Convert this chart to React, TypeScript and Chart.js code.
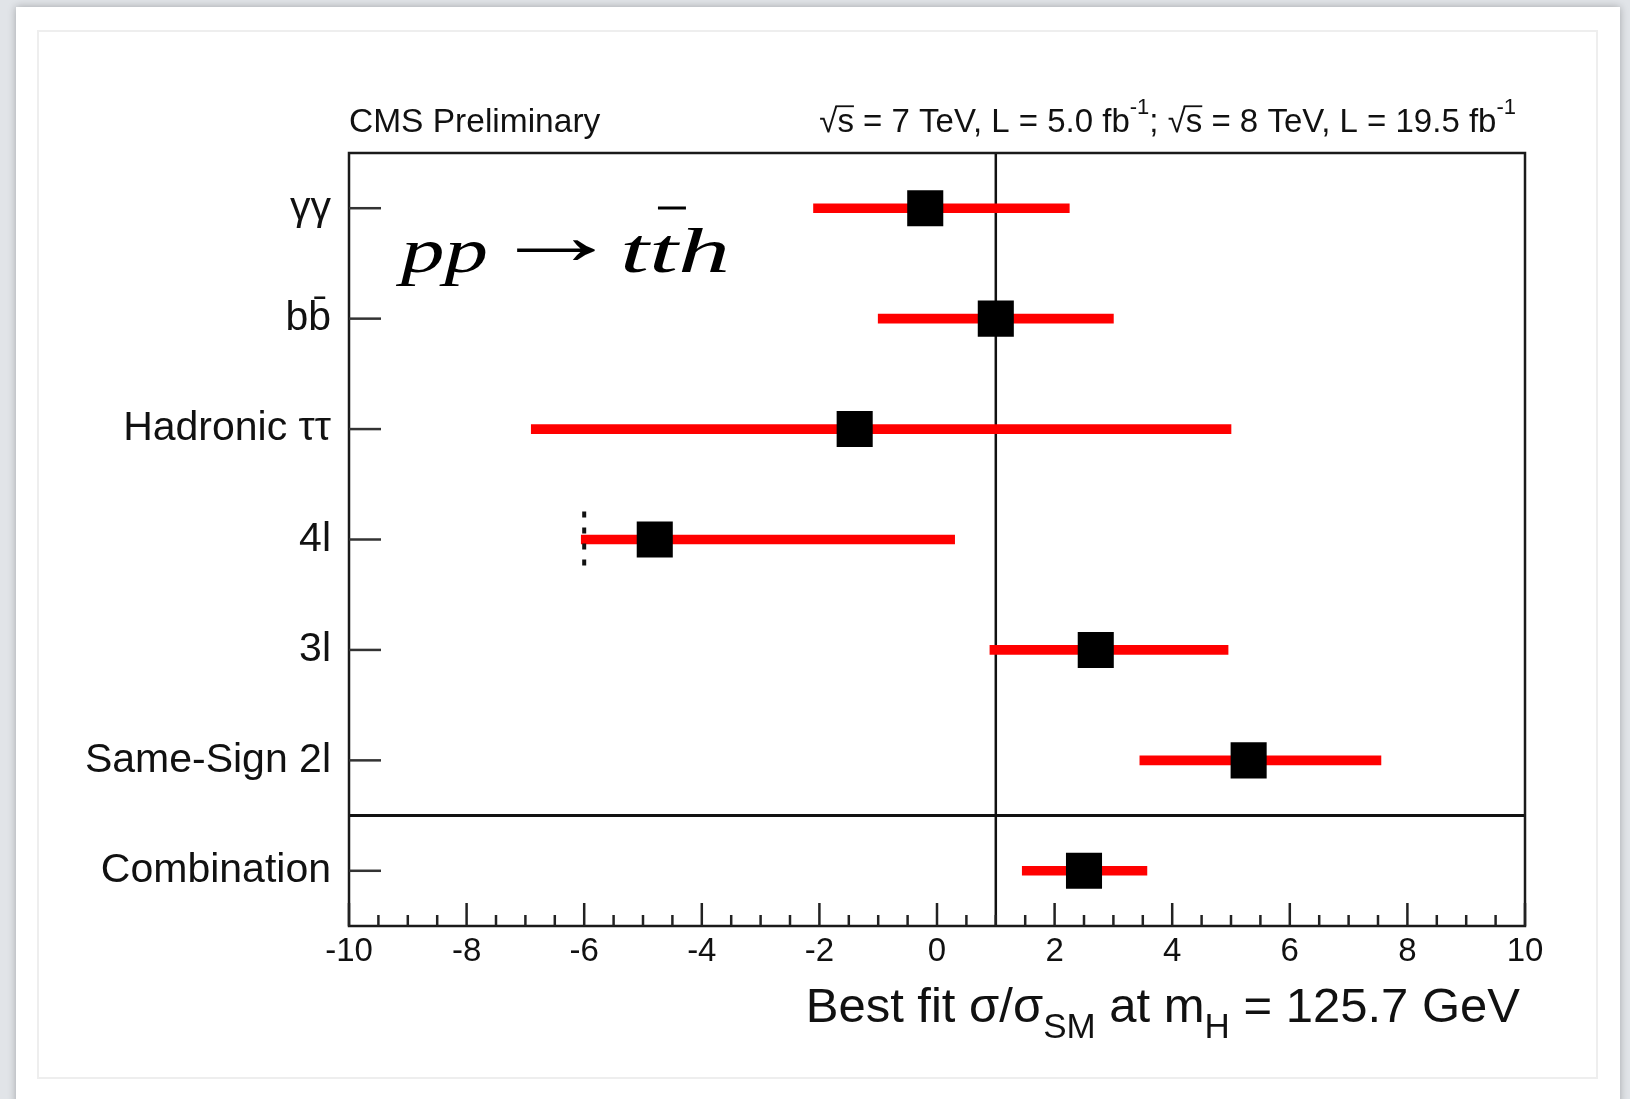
import React, { useEffect, useRef } from "react";
import { Chart, registerables } from "chart.js";

Chart.register(...registerables);

// ---------- data ----------
const categories = ["γγ", "bb\u0304", "Hadronic ττ", "4l", "3l", "Same-Sign 2l", "Combination"];
const bestFit = [-0.2, 1.0, -1.4, -4.8, 2.7, 5.3, 2.5];
const errLow = [-2.1, -1.0, -6.9, -6.05, 0.9, 3.45, 1.45];
const errHigh = [2.25, 3.0, 5.0, 0.3, 4.95, 7.55, 3.57];
const xMin = -10;
const xMax = 10;
const xMajorStep = 2;
const xMinorStep = 0.5;
const smValue = 1;
const separatorBetween = ["Same-Sign 2l", "Combination"];
const limitCategory = "4l";
const limitValue = -6;
const headerLeft = "CMS Preliminary";
const processLabel = { initial: "pp", arrow: "\u2192", final: "tth" };

const SANS = "'Liberation Sans', Arial, Helvetica, sans-serif";
const SERIF = "'Liberation Serif', 'DejaVu Serif', serif";
const INK = "#111111";

type Part = { t: string; size: number; dy: number; over?: boolean };

function drawParts(ctx: CanvasRenderingContext2D, parts: Part[], xRight: number, baseline: number) {
  let total = 0;
  const widths: number[] = [];
  for (const p of parts) {
    ctx.font = `${p.size}px ${SANS}`;
    const w = ctx.measureText(p.t).width;
    widths.push(w);
    total += w;
  }
  let x = xRight - total;
  ctx.textAlign = "left";
  ctx.textBaseline = "alphabetic";
  parts.forEach((p, i) => {
    ctx.font = `${p.size}px ${SANS}`;
    ctx.fillText(p.t, x, baseline + p.dy);
    if (p.over) {
      ctx.beginPath();
      ctx.lineWidth = 1.8;
      const yTop = baseline + p.dy - p.size * 0.78;
      ctx.moveTo(x - 2, yTop);
      ctx.lineTo(x + widths[i], yTop);
      ctx.stroke();
    }
    x += widths[i];
  });
}

const decor = {
  id: "decor",
  beforeDraw(chart: any) {
    const ctx: CanvasRenderingContext2D = chart.ctx;
    const W = chart.width;
    const H = chart.height;
    ctx.save();
    ctx.fillStyle = "#e1e4e8";
    ctx.fillRect(0, 0, W, H);
    ctx.shadowColor = "rgba(0,0,0,0.28)";
    ctx.shadowBlur = 8;
    ctx.fillStyle = "#ffffff";
    ctx.fillRect(16, 7, 1604, H + 20);
    ctx.shadowColor = "transparent";
    ctx.shadowBlur = 0;
    ctx.strokeStyle = "#eeeeee";
    ctx.lineWidth = 2;
    ctx.strokeRect(38, 31, 1559, 1047);
    ctx.restore();
  },
  beforeDatasetsDraw(chart: any) {
    const ctx: CanvasRenderingContext2D = chart.ctx;
    const { left, right, top, bottom } = chart.chartArea;
    const xs = chart.scales.x;
    const ys = chart.scales.y;
    ctx.save();
    ctx.strokeStyle = "#111";
    ctx.lineWidth = 2.5;
    const xsm = xs.getPixelForValue(smValue);
    ctx.beginPath();
    ctx.moveTo(xsm, top);
    ctx.lineTo(xsm, bottom);
    ctx.stroke();
    const ia = categories.indexOf(separatorBetween[0]);
    const ib = categories.indexOf(separatorBetween[1]);
    const ysep = (ys.getPixelForValue(ia) + ys.getPixelForValue(ib)) / 2;
    ctx.lineWidth = 3;
    ctx.beginPath();
    ctx.moveTo(left, ysep);
    ctx.lineTo(right, ysep);
    ctx.stroke();
    ctx.restore();
  },
  afterDatasetsDraw(chart: any) {
    const ctx: CanvasRenderingContext2D = chart.ctx;
    const { left, right, top, bottom } = chart.chartArea;
    const xs = chart.scales.x;
    const ys = chart.scales.y;
    ctx.save();
    // frame
    ctx.strokeStyle = "#1a1a1a";
    ctx.lineWidth = 2.5;
    ctx.strokeRect(left, top, right - left, bottom - top);
    // y ticks (inward)
    ctx.strokeStyle = "#333";
    ctx.lineWidth = 2.5;
    categories.forEach((_, i) => {
      const y = ys.getPixelForValue(i);
      ctx.beginPath();
      ctx.moveTo(left, y);
      ctx.lineTo(left + 32, y);
      ctx.stroke();
    });
    // x ticks (inward)
    ctx.strokeStyle = "#222";
    const n = Math.round((xMax - xMin) / xMinorStep);
    for (let k = 0; k <= n; k++) {
      const v = xMin + k * xMinorStep;
      const major = Math.abs(v / xMajorStep - Math.round(v / xMajorStep)) < 1e-6;
      const x = xs.getPixelForValue(v);
      ctx.beginPath();
      ctx.moveTo(x, bottom);
      ctx.lineTo(x, bottom - (major ? 23 : 11));
      ctx.stroke();
    }
    // lower limit marker for 4l
    const yl = ys.getPixelForValue(categories.indexOf(limitCategory));
    const xl = xs.getPixelForValue(limitValue);
    ctx.strokeStyle = "#111";
    ctx.lineWidth = 4;
    ctx.setLineDash([6, 10]);
    ctx.beginPath();
    ctx.moveTo(xl, yl - 28);
    ctx.lineTo(xl, yl + 28);
    ctx.stroke();
    ctx.setLineDash([]);

    // header texts
    ctx.fillStyle = INK;
    ctx.strokeStyle = INK;
    ctx.font = `33.5px ${SANS}`;
    ctx.textAlign = "left";
    ctx.textBaseline = "alphabetic";
    ctx.fillText(headerLeft, left, 132);
    drawParts(
      ctx,
      [
        { t: "\u221A", size: 33, dy: 0 },
        { t: "s", size: 33, dy: 0, over: true },
        { t: " = 7 TeV, L = 5.0 fb", size: 33, dy: 0 },
        { t: "-1", size: 22, dy: -18 },
        { t: "; ", size: 33, dy: 0 },
        { t: "\u221A", size: 33, dy: 0 },
        { t: "s", size: 33, dy: 0, over: true },
        { t: " = 8 TeV, L = 19.5 fb", size: 33, dy: 0 },
        { t: "-1", size: 22, dy: -18 },
      ],
      1516,
      132
    );
    // x-axis title
    drawParts(
      ctx,
      [
        { t: "Best fit σ/σ", size: 49, dy: 0 },
        { t: "SM", size: 35, dy: 16 },
        { t: " at m", size: 49, dy: 0 },
        { t: "H", size: 35, dy: 16 },
        { t: " = 125.7 GeV", size: 49, dy: 0 },
      ],
      1520,
      1022
    );

    // process label  pp -> t tbar h
    ctx.fillStyle = "#000";
    const drawFit = (txt: string, font: string, x0: number, targetW: number, base: number) => {
      ctx.font = font;
      const w = ctx.measureText(txt).width;
      const sx = targetW / w;
      ctx.save();
      ctx.translate(x0, base);
      ctx.scale(sx, 1);
      ctx.fillText(txt, 0, 0);
      ctx.restore();
      return sx;
    };
    const base = 272;
    drawFit(processLabel.initial, `italic 64px ${SERIF}`, 401, 87, base);
    // arrow: fit its ink box to the reference extent, centred on the math axis
    ctx.font = `84px ${SERIF}`;
    const am = ctx.measureText(processLabel.arrow);
    const inkL = am.actualBoundingBoxLeft;
    const inkW = am.actualBoundingBoxLeft + am.actualBoundingBoxRight;
    const asx = 78 / inkW;
    const ayc = (am.actualBoundingBoxAscent - am.actualBoundingBoxDescent) / 2;
    ctx.save();
    ctx.translate(517, 250 + ayc);
    ctx.scale(asx, 1);
    ctx.fillText(processLabel.arrow, inkL, 0);
    ctx.restore();
    const sx = drawFit(processLabel.final, `italic 64px ${SERIF}`, 620, 110, base);
    ctx.font = `italic 64px ${SERIF}`;
    const tw = ctx.measureText("t").width * sx;
    const x2 = 620 + tw;
    ctx.strokeStyle = "#000";
    ctx.lineWidth = 3;
    ctx.beginPath();
    ctx.moveTo(x2 + 9, 208);
    ctx.lineTo(x2 + 37, 208);
    ctx.stroke();
    ctx.restore();
  },
};

export default function App() {
  const ref = useRef<HTMLCanvasElement>(null);
  useEffect(() => {
    const canvas = ref.current!;
    const tickFontX = { family: SANS, size: 33 };
    const tickFontY = { family: SANS, size: 41 };
    const chart = new Chart(canvas, {
      type: "bar",
      data: {
        labels: categories,
        datasets: [
          {
            type: "bar",
            label: "68% CL interval",
            data: errLow.map((lo, i) => [lo, errHigh[i]]) as any,
            backgroundColor: "#ff0000",
            borderWidth: 0,
            barThickness: 9,
            order: 2,
          } as any,
          {
            type: "line",
            label: "Best fit",
            indexAxis: "y",
            data: bestFit.map((v, i) => ({ x: v, y: categories[i] })) as any,
            showLine: false,
            pointStyle: "rect",
            pointRadius: 25.5,
            pointHoverRadius: 25.5,
            pointBackgroundColor: "#000",
            pointBorderWidth: 0,
            borderWidth: 0,
            order: 1,
          } as any,
        ],
      },
      options: {
        indexAxis: "y",
        responsive: false,
        maintainAspectRatio: false,
        animation: false,
        events: [],
        layout: { padding: { left: 0, top: 153, right: 105, bottom: 0 } },
        plugins: {
          legend: { display: false },
          tooltip: { enabled: false },
          title: { display: false },
        },
        scales: {
          x: {
            type: "linear",
            min: xMin,
            max: xMax,
            ticks: { stepSize: xMajorStep, padding: 6, font: tickFontX, color: INK, maxRotation: 0 },
            grid: { display: false, drawTicks: false },
            border: { display: false },
            afterFit: (s: any) => {
              s.height = 173;
            },
          },
          y: {
            type: "category",
            offset: true,
            ticks: { padding: 18, font: tickFontY, color: INK },
            grid: { display: false, drawTicks: false, offset: true },
            border: { display: false },
            afterFit: (s: any) => {
              s.width = 349;
            },
          },
        },
      } as any,
      plugins: [decor],
    });
    return () => chart.destroy();
  }, []);
  return (
    <div style={{ position: "absolute", left: 0, top: 0, width: 1630, height: 1099 }}>
      <canvas ref={ref} width={1630} height={1099} style={{ width: 1630, height: 1099, display: "block" }} />
    </div>
  );
}
